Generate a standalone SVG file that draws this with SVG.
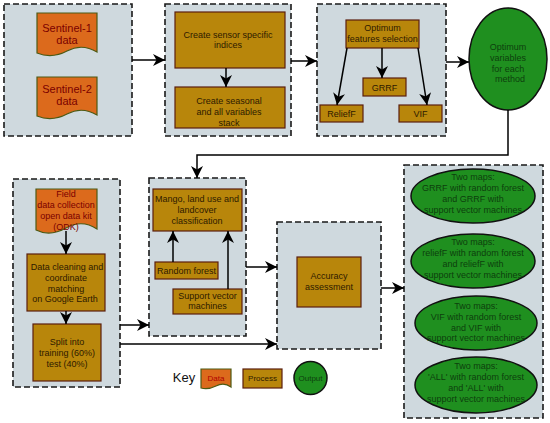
<svg xmlns="http://www.w3.org/2000/svg" width="550" height="423" viewBox="0 0 550 423">
<style>
.panel{fill:#cfd9de;stroke:#1a1a1a;stroke-width:1.6;stroke-dasharray:6 3}
.proc{fill:#b8860b;stroke:#5a1e0e;stroke-width:1.2}
.data{fill:#dc6a1c;stroke:#4d5a14;stroke-width:1.2}
.out{fill:#1f8f1f;stroke:#111;stroke-width:1.5}
text{font-family:"Liberation Sans",Arial,sans-serif;font-size:9px;text-anchor:middle}
.tp{fill:#2e1a00}
.td{fill:#7a0000}
.to{fill:#0d3f0d}
.big{font-size:11px}
.conn path{stroke:#000;stroke-width:1.5;fill:none;marker-end:url(#ah)}
</style>
<defs>
<marker id="ah" markerUnits="userSpaceOnUse" markerWidth="13" markerHeight="12" refX="12" refY="6" orient="auto">
<path d="M0,0 L12,6 L0,12 L3.5,6 Z" fill="#000"/>
</marker>
</defs>
<rect width="550" height="423" fill="#fff"/>

<g id="panels">
<rect class="panel" x="4" y="4" width="128" height="132"/>
<rect class="panel" x="165" y="4" width="126" height="132"/>
<rect class="panel" x="317" y="4" width="129" height="132"/>
<rect class="panel" x="13" y="179" width="107" height="208"/>
<rect class="panel" x="149" y="178" width="97" height="158"/>
<rect class="panel" x="277" y="222" width="104" height="127"/>
<rect class="panel" x="404" y="165" width="139" height="253"/>
</g>

<g id="sentinel1">
<path class="data" d="M37,13 H97 V52 Q82,43 67,51 T37,53 Z"/>
<text class="td big" x="67" y="32">Sentinel-1</text>
<text class="td big" x="67" y="44">data</text>
</g>
<g id="sentinel2">
<path class="data" d="M37,77 H97 V115 Q82,106 67,114 T37,116 Z"/>
<text class="td big" x="67" y="93">Sentinel-2</text>
<text class="td big" x="67" y="105">data</text>
</g>

<g id="indices">
<rect class="proc" x="175" y="12" width="110" height="56"/>
<text class="tp" x="228" y="38">Create sensor specific</text>
<text class="tp" x="228" y="48">indices</text>
</g>
<g id="stack">
<rect class="proc" x="175" y="87" width="110" height="41"/>
<text class="tp" x="229" y="103.5">Create seasonal</text>
<text class="tp" x="229" y="114.5">and all variables</text>
<text class="tp" x="229" y="125.5">stack</text>
</g>

<g id="optsel">
<rect class="proc" x="346" y="20" width="73" height="28"/>
<text class="tp" x="382.5" y="30.5">Optimum</text>
<text class="tp" x="382.5" y="41.5">features selection</text>
</g>
<g id="grrf">
<rect class="proc" x="363" y="78" width="43" height="18"/>
<text class="tp" x="384.5" y="90.5">GRRF</text>
</g>
<g id="relieff">
<rect class="proc" x="320" y="105" width="43" height="17"/>
<text class="tp" x="341.5" y="117">ReliefF</text>
</g>
<g id="vif">
<rect class="proc" x="399" y="105" width="43" height="17"/>
<text class="tp" x="420.5" y="117">VIF</text>
</g>

<g id="optvars">
<ellipse class="out" cx="508" cy="59" rx="39" ry="51"/>
<text class="to" x="508" y="50">Optimum</text>
<text class="to" x="508" y="61">variables</text>
<text class="to" x="508" y="71.5">for each</text>
<text class="to" x="510" y="82">method</text>
</g>

<g id="field">
<path class="data" d="M36,189 H97 V229 Q82,219 66,228 T36,230 Z"/>
<text class="td" x="66" y="197">Field</text>
<text class="td" x="66" y="208">data collection</text>
<text class="td" x="66" y="219">open data kit</text>
<text class="td" x="66" y="230">(ODK)</text>
</g>
<g id="cleaning">
<rect class="proc" x="27" y="254" width="78" height="57"/>
<text class="tp" x="67" y="270">Data cleaning and</text>
<text class="tp" x="66" y="281">coordinate</text>
<text class="tp" x="66" y="291.5">matching</text>
<text class="tp" x="65" y="302">on Google Earth</text>
</g>
<g id="split">
<rect class="proc" x="33" y="324" width="68" height="57"/>
<text class="tp" x="67" y="345">Split into</text>
<text class="tp" x="67" y="356">training (60%)</text>
<text class="tp" x="67" y="366.5">test (40%)</text>
</g>

<g id="mango">
<rect class="proc" x="153" y="189" width="89" height="42"/>
<text class="tp" x="197" y="202">Mango, land use and</text>
<text class="tp" x="197" y="213">landcover</text>
<text class="tp" x="197" y="224">classification</text>
</g>
<g id="rf">
<rect class="proc" x="155" y="262" width="63" height="17"/>
<text class="tp" x="186.5" y="274">Random forest</text>
</g>
<g id="svm">
<rect class="proc" x="173" y="289" width="69" height="25"/>
<text class="tp" x="207.5" y="298.5">Support vector</text>
<text class="tp" x="207.5" y="309">machines</text>
</g>

<g id="accuracy">
<rect class="proc" x="297" y="257" width="64" height="50"/>
<text class="tp" x="329" y="279">Accuracy</text>
<text class="tp" x="329" y="290">assessment</text>
</g>

<g id="map1">
<ellipse class="out" cx="473" cy="196" rx="62" ry="27"/>
<text class="to" x="473" y="180">Two maps:</text>
<text class="to" x="473" y="191">GRRF with random forest</text>
<text class="to" x="473" y="202">and GRRF with</text>
<text class="to" x="473" y="212.5">support vector machines</text>
</g>
<g id="map2">
<ellipse class="out" cx="473" cy="261" rx="62" ry="27"/>
<text class="to" x="473" y="245">Two maps:</text>
<text class="to" x="473" y="256">reliefF with random forest</text>
<text class="to" x="473" y="267">and reliefF with</text>
<text class="to" x="473" y="277.5">support vector machines</text>
</g>
<g id="map3">
<ellipse class="out" cx="476" cy="323" rx="61" ry="27"/>
<text class="to" x="476" y="309">Two maps:</text>
<text class="to" x="476" y="320">VIF with random forest</text>
<text class="to" x="476" y="330.5">and VIF with</text>
<text class="to" x="476" y="341">support vector machines</text>
</g>
<g id="map4">
<ellipse class="out" cx="476" cy="385" rx="61" ry="28"/>
<text class="to" x="476" y="369">Two maps:</text>
<text class="to" x="476" y="380">'ALL' with random forest</text>
<text class="to" x="476" y="391">and 'ALL' with</text>
<text class="to" x="476" y="402">support vector machines</text>
</g>

<g id="key">
<text x="184" y="382" style="font-size:13px;fill:#111">Key</text>
<path class="data" d="M201,369 H231 V387 Q224,382 216,386 T201,388 Z"/>
<text class="td" x="216" y="381" style="font-size:8px;fill:#b00000">Data</text>
<rect class="proc" x="243" y="369" width="39" height="19"/>
<text class="tp" x="262.5" y="381" style="font-size:8px">Process</text>
<circle class="out" cx="310.5" cy="378" r="16.5"/>
<text class="to" x="310.5" y="381" style="font-size:8px">Output</text>
</g>

<g id="connectors" class="conn">
<path d="M132,60 H165"/>
<path d="M226,68 V87"/>
<path d="M291,61 H317"/>
<path d="M347,48 L337,105"/>
<path d="M382,48 V78"/>
<path d="M418,48 L427,105"/>
<path d="M446,62 H469"/>
<path d="M508,110 V155 H197 V178"/>
<path d="M66,231 V254"/>
<path d="M66,311 V324"/>
<path d="M173,262 V231"/>
<path d="M228,289 V231"/>
<path d="M120,325 H149"/>
<path d="M120,344 H277"/>
<path d="M246,267 H277"/>
<path d="M381,288 H404"/>
</g>
</svg>
